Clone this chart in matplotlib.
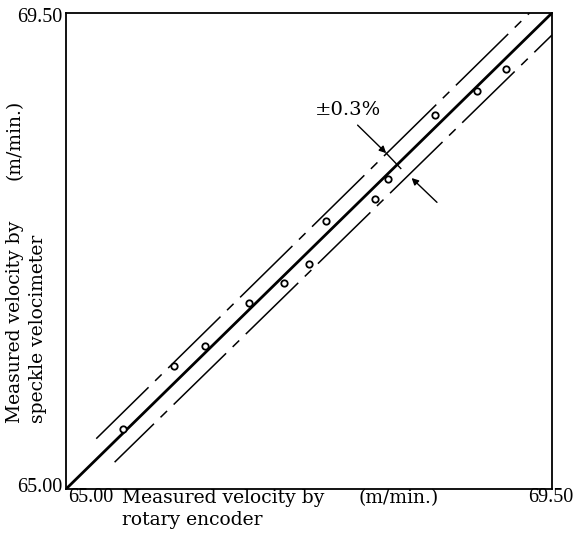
import matplotlib
matplotlib.use("Agg")
import matplotlib.pyplot as plt
import numpy as np

# Data
encoder = [65.53, 66.00, 66.29, 66.69, 67.02, 67.25, 67.41, 67.86, 67.98, 68.42, 68.81, 69.07]
speckle = [65.57, 66.16, 66.35, 66.76, 66.95, 67.13, 67.53, 67.74, 67.93, 68.54, 68.76, 68.97]
axis_min, axis_max = 65.00, 69.50
tolerance = 0.003  # +-0.3 %
upper_x = [65.28, 69.5 / (1 + tolerance)]
lower_x = [65.45, 69.5]
tick_labels = ["65.00", "69.50"]

plt.rcParams['font.family'] = ['DejaVu Serif']
TICKFONT = ['Liberation Serif', 'DejaVu Serif']

fig = plt.figure(figsize=(5.76, 5.53), dpi=100)
ax = fig.add_axes([0.1146, 0.1157, 0.8437, 0.8608])
ax.set_xlim(axis_min, axis_max)
ax.set_ylim(axis_min, axis_max)

# ideal line
ax.plot([axis_min, axis_max], [axis_min, axis_max], color='black', lw=2.0, solid_capstyle='butt')
# tolerance lines
ux = np.array(upper_x)
lx = np.array(lower_x)
ax.plot(ux, ux * (1 + tolerance), color='black', lw=1.1, linestyle=(0, (48, 6, 6, 6)))
ax.plot(lx, lx * (1 - tolerance), color='black', lw=1.1, linestyle=(12, (48, 6, 6, 6)))

# measured points
ax.plot(encoder, speckle, linestyle='none', marker='o', ms=4.6, mfc='white',
        mec='black', mew=1.3, zorder=5)

# annotation
ax.text(67.61, 68.58, "±0.3%", fontsize=14, ha='center', va='center')
ax.annotate("", xy=(67.965, 68.175), xytext=(67.70, 68.44),
            arrowprops=dict(arrowstyle='-|>', color='black', lw=1.0,
                            mutation_scale=10, shrinkA=0, shrinkB=0))
ax.plot([67.965, 68.10], [68.175, 68.03], color='black', lw=1.0)
ax.annotate("", xy=(68.20, 67.94), xytext=(68.435, 67.71),
            arrowprops=dict(arrowstyle='-|>', color='black', lw=1.0,
                            mutation_scale=10, shrinkA=0, shrinkB=0))

ax.set_xticks([])
ax.set_yticks([])
for s in ax.spines.values():
    s.set_linewidth(1.3)

# tick labels
fig.text(68 / 576, 1 - 498 / 553, tick_labels[0], fontsize=14.5, ha='left', va='center', family=TICKFONT)
fig.text(573 / 576, 1 - 498 / 553, tick_labels[1], fontsize=14.5, ha='right', va='center', family=TICKFONT)
fig.text(62 / 576, 1 - 18 / 553, tick_labels[1], fontsize=14.5, ha='right', va='center', family=TICKFONT)
fig.text(62 / 576, 1 - 487 / 553, tick_labels[0], fontsize=14.5, ha='right', va='center', family=TICKFONT)

# axis labels
LS = 13.5
fig.text(122 / 576, 1 - 498 / 553, "Measured velocity by", fontsize=LS, ha='left', va='center')
fig.text(122 / 576, 1 - 520 / 553, "rotary encoder", fontsize=LS, ha='left', va='center')
fig.text(358 / 576, 1 - 498 / 553, "(m/min.)", fontsize=LS, ha='left', va='center')
fig.text(15 / 576, 1 - 423 / 553, "Measured velocity by", fontsize=LS, ha='center', va='bottom', rotation=90)
fig.text(38 / 576, 1 - 423 / 553, "speckle velocimeter", fontsize=LS, ha='center', va='bottom', rotation=90)
fig.text(15 / 576, 1 - 140 / 553, "(m/min.)", fontsize=LS, ha='center', va='center', rotation=90)

fig.savefig("out.png", dpi=100)
